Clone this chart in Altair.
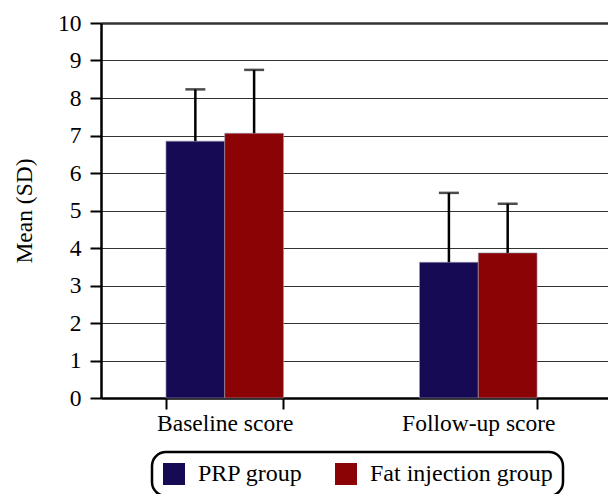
import altair as alt
import pandas as pd

categories = ["Baseline score", "Follow-up score"]
groups = ["PRP group", "Fat injection group"]
prp_means = [6.85, 3.62]
prp_sds = [1.38, 1.85]
fat_means = [7.06, 3.87]
fat_sds = [1.69, 1.31]
colors = ["#160a55", "#8b0305"]

rows = []
for i, c in enumerate(categories):
    rows.append({"cat": c, "group": groups[0], "mean": prp_means[i], "sd": prp_sds[i]})
    rows.append({"cat": c, "group": groups[1], "mean": fat_means[i], "sd": fat_sds[i]})
df = pd.DataFrame(rows)
df["upper"] = df["mean"] + df["sd"]

FONT = "Liberation Serif"
FS = 23.5

x_scale = alt.Scale(paddingInner=0.5365, paddingOuter=0.268, align=0.478)
y_scale = alt.Scale(domain=[0, 10])
xoff = alt.XOffset("group:N", sort=groups)

x_axis = alt.Axis(labelAngle=0, tickBand="extent", tickSize=11, tickWidth=2,
                  tickColor="black", domainColor="black", domainWidth=2.5,
                  labelFont=FONT, labelFontSize=FS, labelColor="black",
                  labelPadding=2, grid=False)
y_axis = alt.Axis(values=list(range(0, 11)), tickSize=11, tickWidth=2,
                  tickColor="black", domainColor="black", domainWidth=2.5,
                  labelFont=FONT, labelFontSize=FS, labelColor="black",
                  labelPadding=9, labelOverlap=False,
                  titleFont=FONT, titleFontSize=FS,
                  titleFontWeight="normal", titleColor="black", titlePadding=21,
                  gridColor="#333333",
                  gridWidth=alt.condition("datum.value == 10", alt.value(2.5), alt.value(1.1)))

X = alt.X("cat:N", sort=categories, title=None, scale=x_scale, axis=x_axis)

bars = alt.Chart(df).mark_bar(stroke="#9a9ab0", strokeWidth=0.6).encode(
    x=X,
    xOffset=xoff,
    y=alt.Y("mean:Q", scale=y_scale, title="Mean (SD)", axis=y_axis),
    color=alt.Color("group:N", sort=groups,
                    scale=alt.Scale(domain=groups, range=colors),
                    legend=alt.Legend(title=None, orient="none", legendX=51, legendY=429,
                                      direction="horizontal", symbolType="square",
                                      symbolSize=484, symbolStrokeWidth=0,
                                      labelFont=FONT, labelFontSize=24, labelColor="black",
                                      labelOffset=12, labelLimit=400, columnPadding=31,
                                      padding=10, strokeColor="black", cornerRadius=14,
                                      fillColor="white")),
)

rules = alt.Chart(df).mark_rule(color="black", strokeWidth=2.5).encode(
    x=X,
    xOffset=xoff,
    y=alt.Y("mean:Q", scale=y_scale, title="Mean (SD)", axis=y_axis),
    y2="upper:Q",
)

caps = alt.Chart(df).mark_tick(color="black", thickness=2.5, size=20).encode(
    x=X,
    xOffset=xoff,
    y=alt.Y("upper:Q", scale=y_scale, title="Mean (SD)", axis=y_axis),
)

chart = alt.layer(bars, rules, caps).properties(
    width=507, height=375,
    autosize=alt.AutoSizeParams(type="none"),
    padding={"left": 93, "top": 15, "right": 0, "bottom": 96},
).configure_view(stroke=None).configure_legend(strokeWidth=2.5)

chart.save("out.html", embed_options={"renderer": "svg", "actions": False})
